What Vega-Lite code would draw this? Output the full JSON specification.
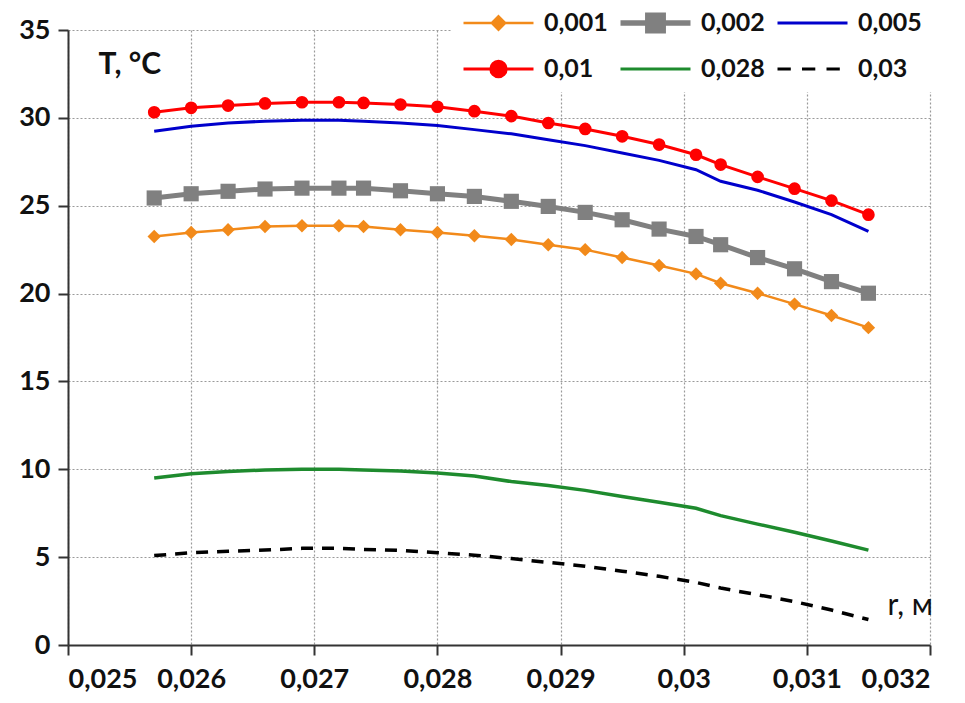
{
  "$schema": "https://vega.github.io/schema/vega-lite/v6.json",
  "autosize": {"type": "none"},
  "width": 862,
  "height": 615,
  "padding": {"left": 68, "top": 30, "right": 35, "bottom": 58},
  "background": "white",
  "config": {
    "locale": {"number": {"decimal": ",", "thousands": " ", "grouping": [3], "currency": ["", ""]}},
    "view": {"stroke": null},
    "font": "Lato",
    "axis": {
      "labelFont": "Lato", "labelFontSize": 27, "labelFontWeight": "bold", "labelColor": "#111",
      "domainColor": "#333", "domainWidth": 2, "tickColor": "#333", "tickWidth": 2, "tickSize": 10,
      "gridColor": "#9a9a9a", "gridDash": [2, 2], "gridWidth": 1.2,
      "titleFont": "Lato", "titleFontSize": 30, "titleFontWeight": "bold", "titleColor": "#111"
    },
    "legend": {
      "orient": "none", "legendX": 383, "legendY": -30, "columns": 3, "direction": "horizontal", "columnPadding": 10, "rowPadding": 20,
      "clipHeight": 26, "symbolOffset": 25,
      "labelFont": "Lato", "labelFontSize": 25, "labelFontWeight": "bold", "labelColor": "#111", "labelOffset": 33,
      "symbolSize": 4900, "symbolStrokeWidth": 3, "fillColor": "white", "padding": 10, "symbolOpacity": 1
    }
  },
  "data": {"values": [
    {"s":"0,001","r":0.0257,"T":23.25},{"s":"0,001","r":0.026,"T":23.48},{"s":"0,001","r":0.0263,"T":23.63},{"s":"0,001","r":0.0266,"T":23.82},{"s":"0,001","r":0.0269,"T":23.86},{"s":"0,001","r":0.0272,"T":23.86},{"s":"0,001","r":0.0274,"T":23.82},{"s":"0,001","r":0.0277,"T":23.63},{"s":"0,001","r":0.028,"T":23.48},{"s":"0,001","r":0.0283,"T":23.29},{"s":"0,001","r":0.0286,"T":23.08},{"s":"0,001","r":0.0289,"T":22.78},{"s":"0,001","r":0.0292,"T":22.5},{"s":"0,001","r":0.0295,"T":22.05},{"s":"0,001","r":0.0298,"T":21.6},{"s":"0,001","r":0.0301,"T":21.12},{"s":"0,001","r":0.0303,"T":20.59},{"s":"0,001","r":0.0306,"T":20.02},{"s":"0,001","r":0.0309,"T":19.4},{"s":"0,001","r":0.0312,"T":18.75},{"s":"0,001","r":0.0315,"T":18.06},
    {"s":"0,002","r":0.0257,"T":25.44},{"s":"0,002","r":0.026,"T":25.68},{"s":"0,002","r":0.0263,"T":25.82},{"s":"0,002","r":0.0266,"T":25.95},{"s":"0,002","r":0.0269,"T":26.0},{"s":"0,002","r":0.0272,"T":26.0},{"s":"0,002","r":0.0274,"T":26.0},{"s":"0,002","r":0.0277,"T":25.85},{"s":"0,002","r":0.028,"T":25.68},{"s":"0,002","r":0.0283,"T":25.53},{"s":"0,002","r":0.0286,"T":25.25},{"s":"0,002","r":0.0289,"T":24.96},{"s":"0,002","r":0.0292,"T":24.62},{"s":"0,002","r":0.0295,"T":24.2},{"s":"0,002","r":0.0298,"T":23.67},{"s":"0,002","r":0.0301,"T":23.25},{"s":"0,002","r":0.0303,"T":22.78},{"s":"0,002","r":0.0306,"T":22.05},{"s":"0,002","r":0.0309,"T":21.41},{"s":"0,002","r":0.0312,"T":20.68},{"s":"0,002","r":0.0315,"T":20.02},
    {"s":"0,005","r":0.0257,"T":29.24},{"s":"0,005","r":0.026,"T":29.52},{"s":"0,005","r":0.0263,"T":29.71},{"s":"0,005","r":0.0266,"T":29.81},{"s":"0,005","r":0.0269,"T":29.86},{"s":"0,005","r":0.0272,"T":29.86},{"s":"0,005","r":0.0274,"T":29.81},{"s":"0,005","r":0.0277,"T":29.71},{"s":"0,005","r":0.028,"T":29.56},{"s":"0,005","r":0.0283,"T":29.33},{"s":"0,005","r":0.0286,"T":29.09},{"s":"0,005","r":0.0289,"T":28.76},{"s":"0,005","r":0.0292,"T":28.42},{"s":"0,005","r":0.0295,"T":28.0},{"s":"0,005","r":0.0298,"T":27.58},{"s":"0,005","r":0.0301,"T":27.05},{"s":"0,005","r":0.0303,"T":26.39},{"s":"0,005","r":0.0306,"T":25.88},{"s":"0,005","r":0.0309,"T":25.21},{"s":"0,005","r":0.0312,"T":24.49},{"s":"0,005","r":0.0315,"T":23.54},
    {"s":"0,01","r":0.0257,"T":30.32},{"s":"0,01","r":0.026,"T":30.57},{"s":"0,01","r":0.0263,"T":30.7},{"s":"0,01","r":0.0266,"T":30.82},{"s":"0,01","r":0.0269,"T":30.89},{"s":"0,01","r":0.0272,"T":30.89},{"s":"0,01","r":0.0274,"T":30.85},{"s":"0,01","r":0.0277,"T":30.76},{"s":"0,01","r":0.028,"T":30.63},{"s":"0,01","r":0.0283,"T":30.38},{"s":"0,01","r":0.0286,"T":30.1},{"s":"0,01","r":0.0289,"T":29.71},{"s":"0,01","r":0.0292,"T":29.37},{"s":"0,01","r":0.0295,"T":28.95},{"s":"0,01","r":0.0298,"T":28.48},{"s":"0,01","r":0.0301,"T":27.9},{"s":"0,01","r":0.0303,"T":27.34},{"s":"0,01","r":0.0306,"T":26.64},{"s":"0,01","r":0.0309,"T":25.97},{"s":"0,01","r":0.0312,"T":25.29},{"s":"0,01","r":0.0315,"T":24.49},
    {"s":"0,028","r":0.0257,"T":9.5},{"s":"0,028","r":0.026,"T":9.75},{"s":"0,028","r":0.0263,"T":9.88},{"s":"0,028","r":0.0266,"T":9.96},{"s":"0,028","r":0.0269,"T":10.0},{"s":"0,028","r":0.0272,"T":10.0},{"s":"0,028","r":0.0274,"T":9.96},{"s":"0,028","r":0.0277,"T":9.9},{"s":"0,028","r":0.028,"T":9.79},{"s":"0,028","r":0.0283,"T":9.62},{"s":"0,028","r":0.0286,"T":9.3},{"s":"0,028","r":0.0289,"T":9.08},{"s":"0,028","r":0.0292,"T":8.8},{"s":"0,028","r":0.0295,"T":8.45},{"s":"0,028","r":0.0298,"T":8.12},{"s":"0,028","r":0.0301,"T":7.78},{"s":"0,028","r":0.0303,"T":7.36},{"s":"0,028","r":0.0306,"T":6.88},{"s":"0,028","r":0.0309,"T":6.42},{"s":"0,028","r":0.0312,"T":5.92},{"s":"0,028","r":0.0315,"T":5.4},
    {"s":"0,03","r":0.0257,"T":5.09},{"s":"0,03","r":0.026,"T":5.25},{"s":"0,03","r":0.0263,"T":5.34},{"s":"0,03","r":0.0266,"T":5.4},{"s":"0,03","r":0.0269,"T":5.5},{"s":"0,03","r":0.0272,"T":5.5},{"s":"0,03","r":0.0274,"T":5.44},{"s":"0,03","r":0.0277,"T":5.38},{"s":"0,03","r":0.028,"T":5.25},{"s":"0,03","r":0.0283,"T":5.11},{"s":"0,03","r":0.0286,"T":4.92},{"s":"0,03","r":0.0289,"T":4.7},{"s":"0,03","r":0.0292,"T":4.48},{"s":"0,03","r":0.0295,"T":4.2},{"s":"0,03","r":0.0298,"T":3.91},{"s":"0,03","r":0.0301,"T":3.56},{"s":"0,03","r":0.0303,"T":3.24},{"s":"0,03","r":0.0306,"T":2.86},{"s":"0,03","r":0.0309,"T":2.47},{"s":"0,03","r":0.0312,"T":1.99},{"s":"0,03","r":0.0315,"T":1.45}
  ]},
  "encoding": {
    "x": {"field": "r", "type": "quantitative",
      "scale": {"domain": [0.025, 0.032], "nice": false, "zero": false},
      "axis": {"values": [0.025, 0.026, 0.027, 0.028, 0.029, 0.03, 0.031, 0.032], "format": "~g", "labelPadding": 11,
        "title": "r, м", "titleAngle": 0, "titleX": 819, "titleY": -40, "titleAlign": "left", "titleBaseline": "middle", "titleFontWeight": "normal"}},
    "y": {"field": "T", "type": "quantitative",
      "scale": {"domain": [0, 35], "nice": false},
      "axis": {"values": [0, 5, 10, 15, 20, 25, 30, 35], "labelPadding": 8,
        "title": "T, °C", "titleAngle": 0, "titleX": 30, "titleY": 34, "titleAlign": "left", "titleBaseline": "middle"}},
    "color": {"field": "s", "type": "nominal",
      "scale": {"domain": ["0,001", "0,002", "0,005", "0,01", "0,028", "0,03"],
                "range": ["#F28A1A", "#808080", "#0000CC", "#FF0000", "#1E8B2E", "#000000"]},
      "legend": null}
  },
  "layer": [
    {"mark": {"type": "point", "filled": true, "opacity": 0},
     "encoding": {
       "color": {"field": "s", "type": "nominal", "legend": {
         "title": null, "symbolSize": 4900, "direction": "horizontal", "columns": 3, "clipHeight": 26, "symbolOffset": 25, "labelOffset": 33,
         "encode": {"symbols": {"update": {
           "fill": {"scale": "color", "field": "value"},
           "stroke": {"scale": "color", "field": "value"},
           "opacity": {"value": 1},
           "size": {"value": 4900},
           "strokeWidth": {"signal": "datum.value == '0,002' ? 5.5 : (datum.value == '0,001' ? 2.5 : 3)"}
         }}}}},
       "shape": {"field": "s", "type": "nominal",
         "legend": {"title": null, "symbolSize": 4900, "direction": "horizontal", "columns": 3, "clipHeight": 26, "symbolOffset": 25, "labelOffset": 33},
         "scale": {"domain": ["0,001", "0,002", "0,005", "0,01", "0,028", "0,03"],
           "range": [
             "M-1,0H1M0,-0.19L0.19,0L0,0.19L-0.19,0Z",
             "M-1,0H1M-0.22,-0.22H0.22V0.22H-0.22Z",
             "M-1,0H1",
             "M-1,0H1M0.22,0A0.22,0.22,0,1,1,-0.22,0A0.22,0.22,0,1,1,0.22,0Z",
             "M-1,0H1",
             "M-1,0H-0.62M-0.3,0H0.08M0.4,0H0.78"
           ]}}
     }},
    {"transform": [{"filter": "datum.s == '0,03'"}], "mark": {"type": "line", "strokeWidth": 3.5, "strokeDash": [12, 9]}},
    {"transform": [{"filter": "datum.s == '0,028'"}], "mark": {"type": "line", "strokeWidth": 3.5}},
    {"transform": [{"filter": "datum.s == '0,005'"}], "mark": {"type": "line", "strokeWidth": 3}},
    {"transform": [{"filter": "datum.s == '0,002'"}], "mark": {"type": "line", "strokeWidth": 5}},
    {"transform": [{"filter": "datum.s == '0,002'"}], "mark": {"type": "point", "shape": "square", "filled": true, "opacity": 1, "size": 230}},
    {"transform": [{"filter": "datum.s == '0,001'"}], "mark": {"type": "line", "strokeWidth": 2.5}},
    {"transform": [{"filter": "datum.s == '0,001'"}], "mark": {"type": "point", "shape": "diamond", "filled": true, "opacity": 1, "size": 180}},
    {"transform": [{"filter": "datum.s == '0,01'"}], "mark": {"type": "line", "strokeWidth": 3}},
    {"transform": [{"filter": "datum.s == '0,01'"}], "mark": {"type": "point", "shape": "circle", "filled": true, "opacity": 1, "size": 160}}
  ]
}
